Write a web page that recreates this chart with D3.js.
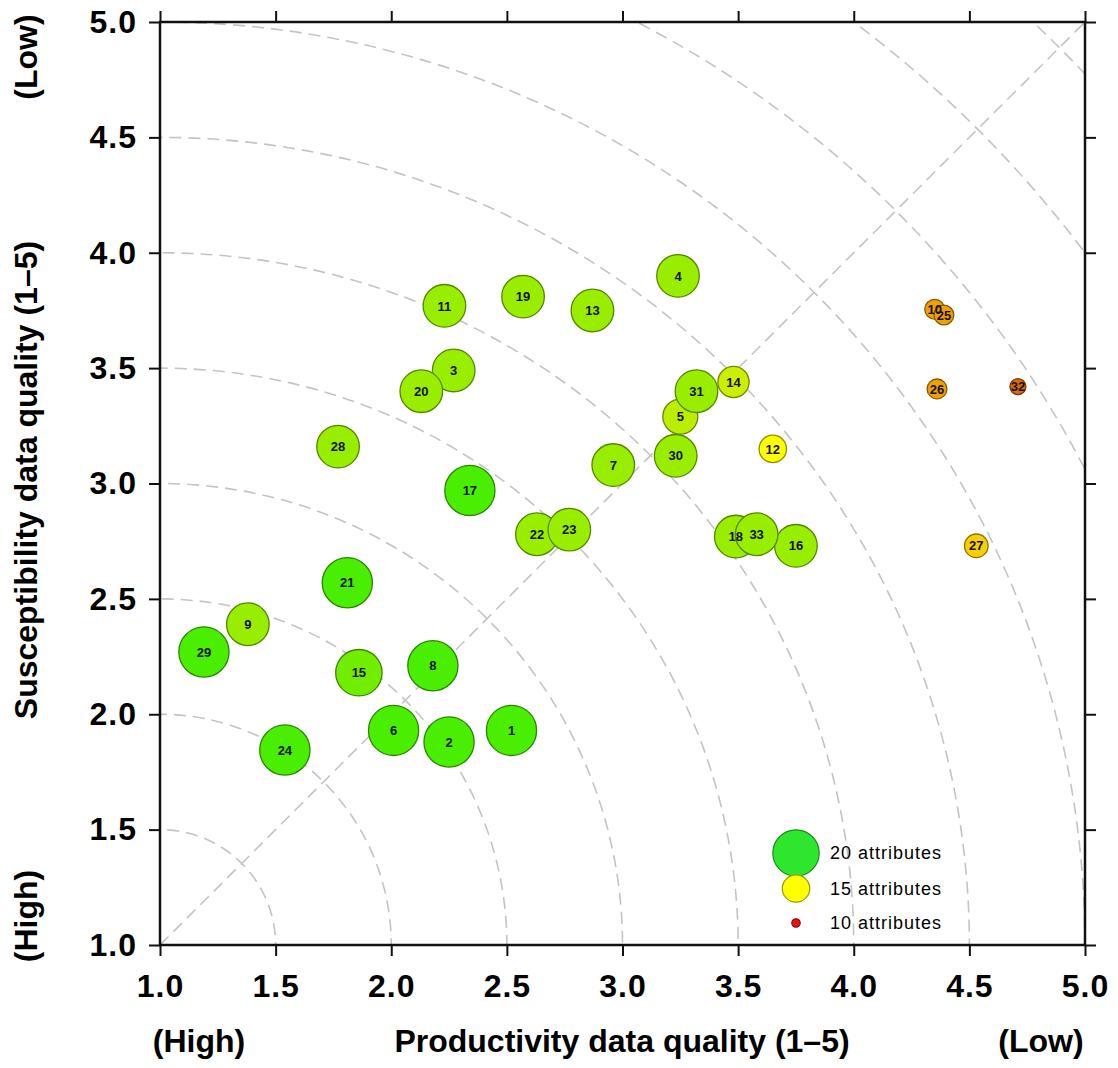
<!DOCTYPE html>
<html><head><meta charset="utf-8">
<script src="https://cdn.jsdelivr.net/npm/d3@7"></script>
<style>body{margin:0;background:#fff} svg{display:block;background:#fff}</style>
</head><body><svg id="chart" width="1118" height="1068"></svg>
<script>
// ---------------- data ----------------
const pointIds       = [1,2,3,4,5,6,7,8,9,10,11,12,13,14,15,16,17,18,19,20,21,22,23,24,25,26,27,28,29,30,31,32,33];
const productivity   = [2.52,2.25,2.27,3.24,3.25,2.01,2.96,2.18,1.38,4.35,2.23,3.65,2.87,3.48,1.86,3.75,2.34,3.49,2.57,2.13,1.81,2.63,2.77,1.54,4.39,4.36,4.53,1.77,1.19,3.23,3.32,4.71,3.58];
const susceptibility = [1.93,1.88,3.49,3.90,3.29,1.93,3.08,2.21,2.39,3.755,3.77,3.15,3.75,3.44,2.18,2.73,2.97,2.77,3.81,3.40,2.57,2.78,2.80,1.845,3.73,3.41,2.73,3.16,2.27,3.12,3.40,3.42,2.78];
const attributes     = [21,21,19,19,17,21,19,21,19,13,19,15,19,16,20,19,21,19,19,19,21,19,19,21,13,13,14,19,21,19,19,12,19];
const tickValues     = [1.0,1.5,2.0,2.5,3.0,3.5,4.0,4.5,5.0];
const gridRadii      = [0.5,1.0,1.5,2.0,2.5,3.0,3.5,4.0,4.5,5.0,5.5];
const legendAttributes = [20,15,10];
const legendLabels   = ["20 attributes","15 attributes","10 attributes"];
const xTitle = "Productivity data quality (1–5)";
const yTitle = "Susceptibility data quality (1–5)";
const highLabel = "(High)", lowLabel = "(Low)";

// ---------------- styles / layout ----------------
const FONT = "'Liberation Sans', Arial, Helvetica, sans-serif";
const LEGEND_COLORS = ["#2ee62e", "#ffff00", "#ee1111"];
const L = 160, R = 1085, T = 22, B = 945;

const svg = d3.select("#chart");
const x = d3.scaleLinear().domain([1,5]).range([L,R]);
const y = d3.scaleLinear().domain([1,5]).range([B,T]);
const rScale = d3.scaleLinear().domain([10,20]).range([4.2,23.2]);
const color = d3.scaleLinear().domain([11,13,15,16,19,22])
  .range(["#cc3300","#f0a000","#ffff00","#ccee00","#99ee00","#22ee00"]).clamp(true);

svg.append("defs").append("clipPath").attr("id","plotclip")
  .append("rect").attr("x",L).attr("y",T).attr("width",R-L).attr("height",B-T);

// grid arcs & diagonal
const grid = svg.append("g").attr("clip-path","url(#plotclip)")
  .attr("fill","none").attr("stroke","#c4c4c4").attr("stroke-width",1.6)
  .attr("stroke-dasharray","12,7");
grid.selectAll("ellipse").data(gridRadii).join("ellipse")
  .attr("cx", x(1)).attr("cy", y(1))
  .attr("rx", d => x(1+d)-x(1)).attr("ry", d => y(1)-y(1+d));
grid.append("line").attr("x1",x(1)).attr("y1",y(1)).attr("x2",x(5)).attr("y2",y(5));

// axes
const fmt = d3.format(".1f");
function styleAxis(g){
  g.select(".domain").remove();
  g.selectAll(".tick line").attr("stroke","#111").attr("stroke-width",2);
  g.selectAll(".tick text").attr("font-family",FONT).attr("font-weight","bold")
    .attr("font-size",32).attr("fill","#000").attr("letter-spacing","1px");
}
svg.append("g").attr("transform",`translate(0,${B})`)
  .call(d3.axisBottom(x).tickValues(tickValues).tickFormat(fmt).tickSize(11).tickPadding(18)).call(styleAxis);
svg.append("g").attr("transform",`translate(${L},0)`)
  .call(d3.axisLeft(y).tickValues(tickValues).tickFormat(fmt).tickSize(11).tickPadding(12)).call(styleAxis);
svg.append("g").attr("transform",`translate(0,${T})`)
  .call(d3.axisTop(x).tickValues(tickValues).tickFormat("").tickSize(11)).call(styleAxis);
svg.append("g").attr("transform",`translate(${R},0)`)
  .call(d3.axisRight(y).tickValues(tickValues).tickFormat("").tickSize(11)).call(styleAxis);

svg.append("rect").attr("x",L).attr("y",T).attr("width",R-L).attr("height",B-T)
  .attr("fill","none").attr("stroke","#111").attr("stroke-width",2.5);

// points
const pts = pointIds.map((id,i) => ({id, px: productivity[i], sy: susceptibility[i], n: attributes[i]}));
const pg = svg.append("g");
pg.selectAll("circle").data(pts).join("circle")
  .attr("cx",d => x(d.px)).attr("cy",d => y(d.sy)).attr("r",d => rScale(d.n))
  .attr("fill",d => color(d.n)).attr("stroke",d => d3.color(color(d.n)).darker(1.6)).attr("stroke-width",1.3);
pg.selectAll("text").data(pts).join("text")
  .attr("x",d => x(d.px)).attr("y",d => y(d.sy)).attr("dy","0.36em")
  .attr("text-anchor","middle").attr("font-family",FONT).attr("font-weight","bold")
  .attr("font-size",13).attr("fill","#111").text(d => d.id);

// legend
const lg = svg.append("g");
const legendY = [853, 888.5, 923];
legendAttributes.forEach((n,i) => {
  lg.append("circle").attr("cx",796).attr("cy",legendY[i]).attr("r",rScale(n))
    .attr("fill",LEGEND_COLORS[i]).attr("stroke",d3.color(LEGEND_COLORS[i]).darker(1.4)).attr("stroke-width",1.2);
  lg.append("text").attr("x",830).attr("y",legendY[i]).attr("dy","0.36em")
    .attr("font-family",FONT).attr("font-size",18).attr("letter-spacing","1px")
    .attr("fill","#000").text(legendLabels[i]);
});

// axis titles
function label(txt, tx, ty, rot, anchor){
  svg.append("text").attr("transform",`translate(${tx},${ty}) rotate(${rot})`)
    .attr("text-anchor",anchor).attr("font-family",FONT).attr("font-weight","bold")
    .attr("font-size",32).attr("fill","#000").text(txt);
}
label(xTitle, 622, 1052, 0, "middle");
label(highLabel, 199, 1052, 0, "middle");
label(lowLabel, 1041, 1052, 0, "middle");
label(yTitle, 37, 480, -90, "middle");
label(lowLabel, 37, 57, -90, "middle");
label(highLabel, 37, 916, -90, "middle");
</script></body></html>
